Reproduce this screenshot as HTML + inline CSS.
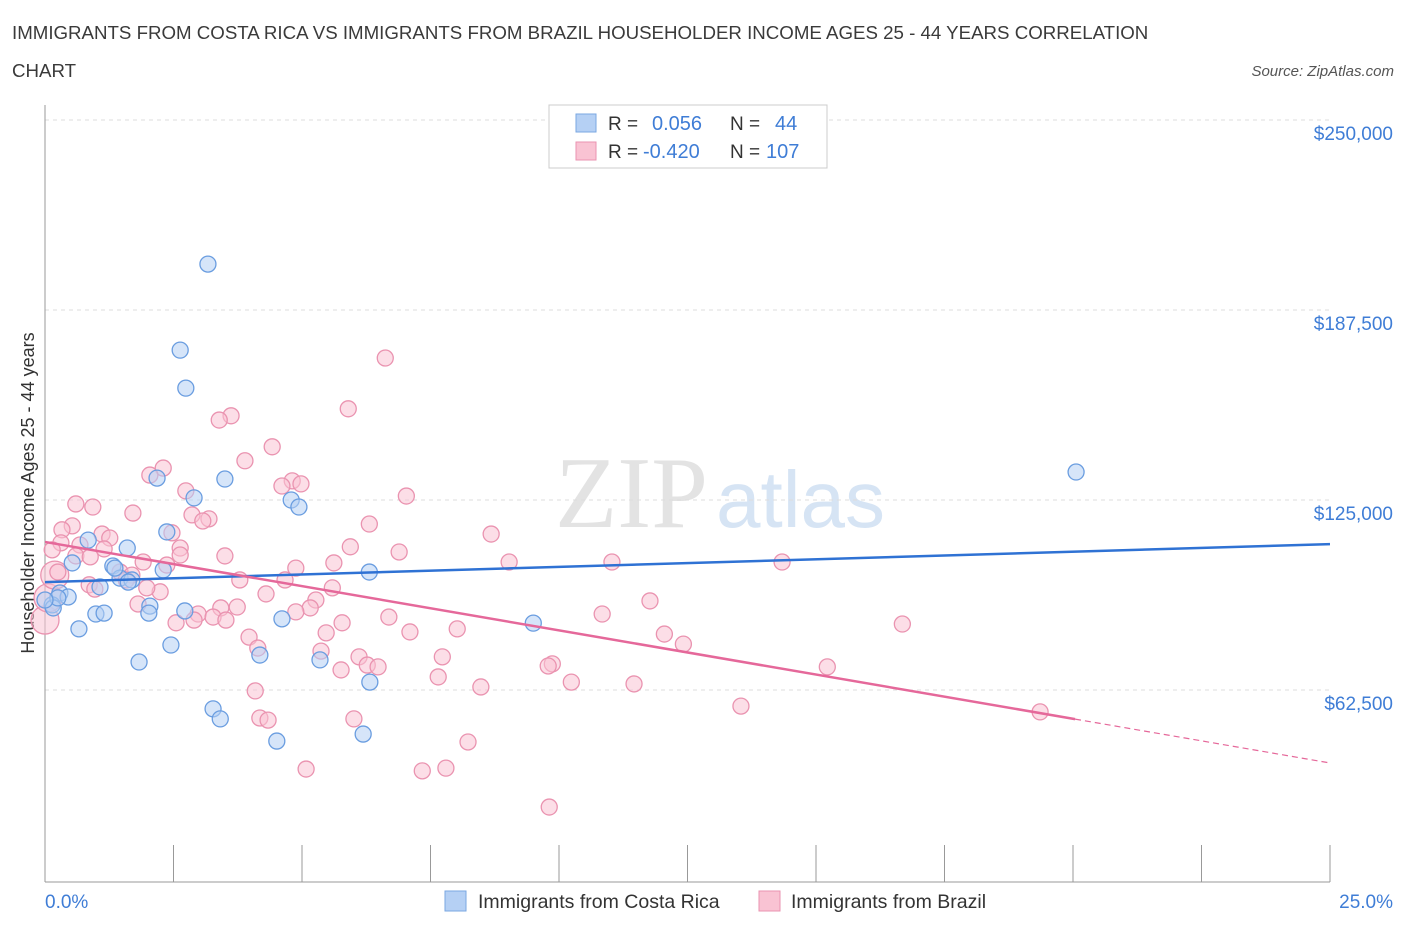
<!DOCTYPE html>
<html><head><meta charset="utf-8"><style>
body{margin:0;background:#fff;font-family:"Liberation Sans",sans-serif;}
</style></head><body>
<svg id="chart" width="1406" height="930" xmlns="http://www.w3.org/2000/svg" style="display:block">
<text x="12" y="39" font-size="18.7" fill="#3a3a3a">IMMIGRANTS FROM COSTA RICA VS IMMIGRANTS FROM BRAZIL HOUSEHOLDER INCOME AGES 25 - 44 YEARS CORRELATION</text>
<text x="12" y="77" font-size="18.7" fill="#3a3a3a">CHART</text>
<text x="1394" y="76" font-size="15" fill="#555" text-anchor="end" font-style="italic">Source: ZipAtlas.com</text>
<text x="555" y="527" font-size="102" fill="#e3e3e3" font-family="Liberation Serif,serif">ZIP</text>
<text x="716" y="527" font-size="80" fill="#d6e4f4">atlas</text>
<text transform="translate(34,493) rotate(-90)" font-size="18" fill="#333" text-anchor="middle">Householder Income Ages 25 - 44 years</text>
<g id="grid"></g><g id="marks"></g>
<g>
<rect x="549" y="105" width="278" height="63" fill="#fff" stroke="#ccc"/>
<rect x="576" y="114" width="20" height="18" fill="#b5d0f4" stroke="#7aa7e2"/>
<rect x="576" y="142" width="20" height="18" fill="#f9c3d3" stroke="#ea93b0"/>
<text x="608" y="130" font-size="19" fill="#333">R =</text><text x="652" y="130" font-size="20" fill="#3f7dd6">0.056</text>
<text x="730" y="130" font-size="19" fill="#333">N =</text><text x="775" y="130" font-size="20" fill="#3f7dd6">44</text>
<text x="608" y="158" font-size="19" fill="#333">R =</text><text x="643" y="158" font-size="20" fill="#3f7dd6">-0.420</text>
<text x="730" y="158" font-size="19" fill="#333">N =</text><text x="766" y="158" font-size="20" fill="#3f7dd6">107</text>
</g>
<g>
<rect x="445" y="891" width="21" height="20" fill="#b5d0f4" stroke="#7aa7e2"/>
<text x="478" y="908" font-size="19.5" fill="#333">Immigrants from Costa Rica</text>
<rect x="759" y="891" width="21" height="20" fill="#f9c3d3" stroke="#ea93b0" transform="translate(0,0)"/>
<text x="791" y="908" font-size="19.5" fill="#333">Immigrants from Brazil</text>
</g>
<text x="45" y="908" font-size="19" fill="#3f7dd6">0.0%</text>
<text x="1393" y="908" font-size="19" fill="#3f7dd6" text-anchor="end">25.0%</text>
</svg>
<script>
const yTicks=[62500,125000,187500,250000];
const yTickLabels=["$62,500","$125,000","$187,500","$250,000"];
const blueX=[3.17,2.63,2.74,3.50,2.18,2.90,4.79,4.94,2.37,1.60,0.84,0.53,1.32,2.30,6.31,1.46,1.69,1.07,0.29,0.45,0.14,2.04,2.72,0.99,2.02,1.15,4.61,9.50,0.66,2.45,4.18,5.35,1.83,6.32,3.27,3.41,4.51,6.19,20.06,0.16,0.25,1.62,1.36,0.0];
const blueY=[202.6,174.3,161.8,131.9,132.2,125.7,125.0,122.7,114.5,109.2,111.8,104.3,103.3,102.0,101.3,99.3,98.7,96.4,94.4,93.1,90.5,90.1,88.5,87.5,87.8,87.8,85.9,84.5,82.6,77.3,74.0,72.4,71.7,65.1,56.3,53.0,45.7,48.0,134.2,89.5,92.8,98.0,102.6,92.1];
const pinkX=[6.62,5.90,3.62,3.39,4.42,3.89,2.30,2.04,4.81,4.98,4.61,7.03,2.74,0.60,0.93,1.71,2.86,3.19,3.07,6.31,0.53,0.33,8.68,1.11,2.47,1.26,0.31,0.68,5.94,2.63,0.14,6.89,1.15,0.60,3.50,0.88,1.91,2.37,5.62,9.03,11.03,14.34,2.63,0.25,1.46,1.69,4.88,1.58,0.86,3.79,4.67,5.59,2.24,4.30,0.97,1.98,5.27,5.16,3.42,3.74,1.81,4.88,10.84,2.98,3.27,2.55,11.77,6.69,5.78,3.52,8.02,2.90,7.10,5.47,3.97,12.05,12.42,16.68,4.14,5.37,7.73,6.11,6.27,9.87,9.79,15.22,5.76,6.48,7.65,10.24,11.46,8.48,4.09,13.54,19.36,4.18,4.34,6.01,8.23,5.08,7.34,7.80,9.81];
const pinkY=[171.7,155.0,152.7,151.3,142.5,137.9,135.5,133.2,131.3,130.3,129.6,126.3,128.0,123.7,122.7,120.7,120.1,118.8,118.1,117.1,116.5,115.2,113.8,113.8,114.2,112.5,110.9,110.2,109.6,109.2,108.6,107.9,108.9,106.6,106.6,106.3,104.6,103.6,104.3,104.6,104.6,104.6,106.9,101.3,101.3,100.3,102.6,98.7,97.1,98.7,98.7,96.1,94.8,94.1,95.7,96.1,92.1,89.5,89.5,89.8,90.8,88.2,87.5,87.5,86.5,84.6,91.8,86.5,84.6,85.5,82.6,85.5,81.6,81.3,79.9,80.9,77.6,84.2,76.3,75.3,73.4,73.4,70.7,71.1,70.4,70.1,69.1,70.1,66.8,65.1,64.5,63.5,62.2,57.2,55.3,53.3,52.6,53.0,45.4,36.5,35.9,36.8,24.0];
const pinkBigX=[0.0,0.06,0.19];
const pinkBigY=[85.5,92.8,100.3];
const blueTrend=[98.0,110.5];
const pinkTrend=[111.2,38.5];
const pinkSolidEnd=20.04;

const NS="http://www.w3.org/2000/svg";
const X0=45,X1=1330,Y0=880,PPK=190/62.5;
const xs=v=>X0+(X1-X0)*v/25;
const ys=k=>Y0-k*PPK;
function mk(tag,attrs,parent){const e=document.createElementNS(NS,tag);for(const k in attrs)e.setAttribute(k,attrs[k]);parent.appendChild(e);return e;}
const grid=document.getElementById('grid'),marks=document.getElementById('marks');
yTicks.forEach((t,i)=>{const y=ys(t/1000);
 const l=mk('line',{x1:X0,x2:X1,y1:y,y2:y,stroke:'#ddd','stroke-dasharray':'4,4'},grid);
 
 
 const tx=mk('text',{x:1393,y:y+20,'font-size':19,fill:'#3f7dd6','text-anchor':'end'},grid);
 tx.textContent=yTickLabels[i];
 
 
});
const ax=mk('line',{x1:X0,x2:X0,y1:105,y2:882,stroke:'#999'},grid);


const bx=mk('line',{x1:X0,x2:X1,y1:882,y2:882,stroke:'#999'},grid);


for(let i=0;i<=10;i++){const x=xs(i*2.5);
 const t=mk('line',{x1:x,x2:x,y1:845,y2:882,stroke:'#999'},grid);
 
 }
function dots(X,Y,r,fill,stroke,name){X.forEach((v,i)=>{
 const c=mk('circle',{cx:xs(v),cy:ys(Y[i]),r:r,fill:fill,'fill-opacity':0.55,stroke:stroke,'stroke-width':1.3},marks);
 
 });}
dots(pinkBigX,pinkBigY,14,'#f9c3d3','#ea93b0','brazil-point');
dots(pinkX,pinkY,8,'#f9c3d3','#ea93b0','brazil-point');
dots(blueX,blueY,8,'#b5d0f4','#6a9de0','costa-rica-point');
const lerp=(a,v)=>a[0]+(a[1]-a[0])*v/25;
const bl=mk('line',{x1:xs(0),y1:ys(blueTrend[0]),x2:xs(25),y2:ys(blueTrend[1]),stroke:'#2f72d4','stroke-width':2.5},marks);


const pl=mk('line',{x1:xs(0),y1:ys(pinkTrend[0]),x2:xs(pinkSolidEnd),y2:ys(lerp(pinkTrend,pinkSolidEnd)),stroke:'#e5689a','stroke-width':2.5},marks);


const pd=mk('line',{x1:xs(pinkSolidEnd),y1:ys(lerp(pinkTrend,pinkSolidEnd)),x2:xs(25),y2:ys(pinkTrend[1]),stroke:'#e5689a','stroke-width':1.2,'stroke-dasharray':'6,4'},marks);


</script>
</body></html>
